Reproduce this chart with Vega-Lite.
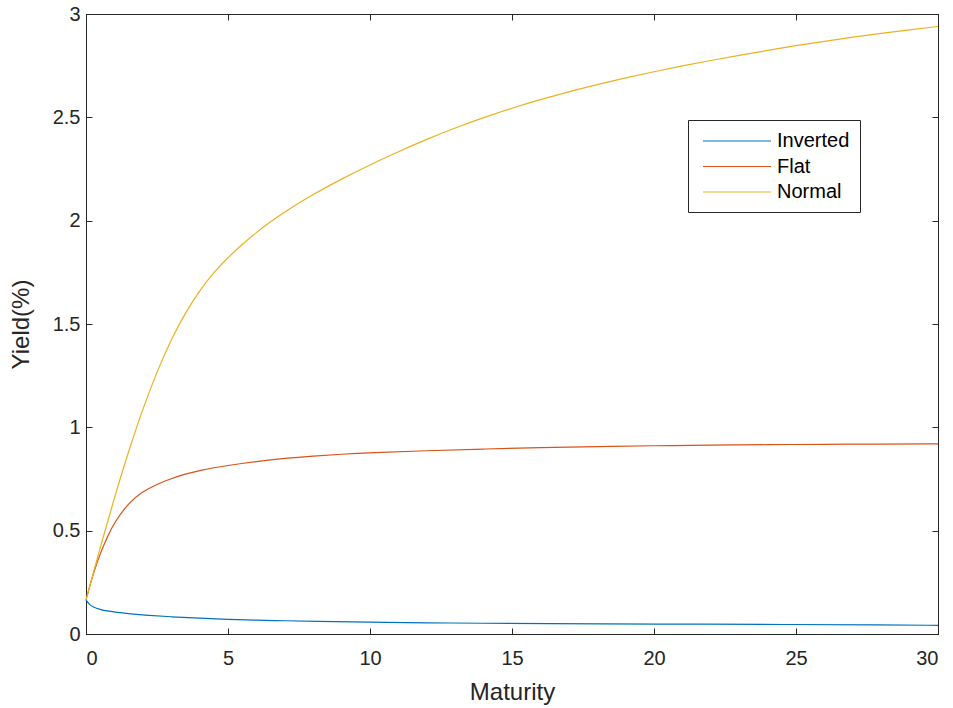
{
  "$schema": "https://vega.github.io/schema/vega-lite/v6.json",
  "width": 852,
  "height": 620,
  "autosize": {"type": "none"},
  "padding": {"left": 86, "top": 14, "right": 15, "bottom": 74},
  "background": "white",
  "config": {
    "font": "Liberation Sans",
    "view": {"stroke": "#262626", "strokeWidth": 1},
    "axis": {
      "grid": false,
      "domainColor": "#262626",
      "domainWidth": 1,
      "tickColor": "#262626",
      "tickSize": -6,
      "tickWidth": 1,
      "labelFont": "Liberation Sans",
      "labelFontSize": 20,
      "labelColor": "#262626",
      "titleFont": "Liberation Sans",
      "titleFontSize": 24,
      "titleFontWeight": "normal",
      "titleColor": "#262626"
    }
  },
  "data": {
    "values": [
      {"m": 0, "s": "Inverted", "y": 0.165},
      {"m": 0.1, "s": "Inverted", "y": 0.145},
      {"m": 0.25, "s": "Inverted", "y": 0.13},
      {"m": 0.5, "s": "Inverted", "y": 0.119},
      {"m": 0.75, "s": "Inverted", "y": 0.111},
      {"m": 1, "s": "Inverted", "y": 0.106},
      {"m": 1.5, "s": "Inverted", "y": 0.098},
      {"m": 2, "s": "Inverted", "y": 0.092},
      {"m": 3, "s": "Inverted", "y": 0.083},
      {"m": 4, "s": "Inverted", "y": 0.076},
      {"m": 5, "s": "Inverted", "y": 0.071},
      {"m": 6, "s": "Inverted", "y": 0.067},
      {"m": 7, "s": "Inverted", "y": 0.064},
      {"m": 8, "s": "Inverted", "y": 0.061},
      {"m": 10, "s": "Inverted", "y": 0.057},
      {"m": 12, "s": "Inverted", "y": 0.054},
      {"m": 14, "s": "Inverted", "y": 0.052},
      {"m": 16, "s": "Inverted", "y": 0.05},
      {"m": 20, "s": "Inverted", "y": 0.048},
      {"m": 25, "s": "Inverted", "y": 0.046},
      {"m": 28, "s": "Inverted", "y": 0.044},
      {"m": 30, "s": "Inverted", "y": 0.042},
      {"m": 0, "s": "Flat", "y": 0.165},
      {"m": 0.25, "s": "Flat", "y": 0.29},
      {"m": 0.5, "s": "Flat", "y": 0.39},
      {"m": 0.75, "s": "Flat", "y": 0.47},
      {"m": 1, "s": "Flat", "y": 0.54},
      {"m": 1.5, "s": "Flat", "y": 0.635},
      {"m": 2, "s": "Flat", "y": 0.69},
      {"m": 2.5, "s": "Flat", "y": 0.725},
      {"m": 3, "s": "Flat", "y": 0.752},
      {"m": 3.5, "s": "Flat", "y": 0.774},
      {"m": 4, "s": "Flat", "y": 0.792},
      {"m": 5, "s": "Flat", "y": 0.816},
      {"m": 6, "s": "Flat", "y": 0.835},
      {"m": 7, "s": "Flat", "y": 0.85},
      {"m": 8, "s": "Flat", "y": 0.861},
      {"m": 9, "s": "Flat", "y": 0.87},
      {"m": 10, "s": "Flat", "y": 0.877},
      {"m": 12, "s": "Flat", "y": 0.887},
      {"m": 14, "s": "Flat", "y": 0.895},
      {"m": 16, "s": "Flat", "y": 0.902},
      {"m": 18, "s": "Flat", "y": 0.907},
      {"m": 20, "s": "Flat", "y": 0.911},
      {"m": 22, "s": "Flat", "y": 0.914},
      {"m": 24, "s": "Flat", "y": 0.916},
      {"m": 26, "s": "Flat", "y": 0.918},
      {"m": 28, "s": "Flat", "y": 0.919},
      {"m": 30, "s": "Flat", "y": 0.92},
      {"m": 0, "s": "Normal", "y": 0.165},
      {"m": 0.5, "s": "Normal", "y": 0.42},
      {"m": 1, "s": "Normal", "y": 0.66},
      {"m": 1.5, "s": "Normal", "y": 0.885},
      {"m": 2, "s": "Normal", "y": 1.09},
      {"m": 2.5, "s": "Normal", "y": 1.27},
      {"m": 3, "s": "Normal", "y": 1.425},
      {"m": 3.5, "s": "Normal", "y": 1.555},
      {"m": 4, "s": "Normal", "y": 1.663},
      {"m": 4.5, "s": "Normal", "y": 1.75},
      {"m": 5, "s": "Normal", "y": 1.822},
      {"m": 5.5, "s": "Normal", "y": 1.886},
      {"m": 6, "s": "Normal", "y": 1.943},
      {"m": 6.5, "s": "Normal", "y": 1.995},
      {"m": 7, "s": "Normal", "y": 2.043},
      {"m": 8, "s": "Normal", "y": 2.128},
      {"m": 9, "s": "Normal", "y": 2.202},
      {"m": 10, "s": "Normal", "y": 2.27},
      {"m": 11, "s": "Normal", "y": 2.334},
      {"m": 12, "s": "Normal", "y": 2.394},
      {"m": 13, "s": "Normal", "y": 2.449},
      {"m": 14, "s": "Normal", "y": 2.499},
      {"m": 15, "s": "Normal", "y": 2.545},
      {"m": 16, "s": "Normal", "y": 2.586},
      {"m": 17, "s": "Normal", "y": 2.624},
      {"m": 18, "s": "Normal", "y": 2.659},
      {"m": 19, "s": "Normal", "y": 2.691},
      {"m": 20, "s": "Normal", "y": 2.721},
      {"m": 21, "s": "Normal", "y": 2.749},
      {"m": 22, "s": "Normal", "y": 2.775},
      {"m": 23, "s": "Normal", "y": 2.8},
      {"m": 24, "s": "Normal", "y": 2.824},
      {"m": 25, "s": "Normal", "y": 2.847},
      {"m": 26, "s": "Normal", "y": 2.868},
      {"m": 27, "s": "Normal", "y": 2.888},
      {"m": 28, "s": "Normal", "y": 2.906},
      {"m": 29, "s": "Normal", "y": 2.923},
      {"m": 30, "s": "Normal", "y": 2.94}
    ]
  },
  "layer": [
    {
      "mark": {"type": "line", "strokeWidth": 1.2, "interpolate": "basis"},
      "encoding": {
        "x": {
          "field": "m", "type": "quantitative",
          "scale": {"domain": [0, 30], "nice": false, "zero": false},
          "axis": {"orient": "bottom", "values": [0, 5, 10, 15, 20, 25, 30], "format": "~g", "title": "Maturity", "labelPadding": 20, "titlePadding": 12}
        },
        "y": {
          "field": "y", "type": "quantitative",
          "scale": {"domain": [0, 3], "nice": false},
          "axis": {"orient": "left", "values": [0, 0.5, 1, 1.5, 2, 2.5, 3], "format": "~g", "title": "Yield(%)", "labelPadding": 12, "titlePadding": 19}
        },
        "color": {
          "field": "s", "type": "nominal",
          "scale": {"domain": ["Inverted", "Flat", "Normal"], "range": ["#0072BD", "#D95319", "#EDB120"]},
          "legend": {
            "orient": "none", "legendX": 602, "legendY": 106,
            "title": null,
            "symbolType": "M-3.4,0H3.4",
            "symbolSize": 400,
            "symbolStrokeWidth": 1.2,
            "symbolOffset": 28,
            "labelOffset": 29,
            "labelFont": "Liberation Sans",
            "labelFontSize": 20,
            "labelColor": "#000000",
            "rowPadding": 4.5,
            "padding": 10,
            "fillColor": "white",
            "strokeColor": "#262626"
          }
        }
      }
    },
    {
      "mark": {"type": "line", "opacity": 0},
      "encoding": {
        "x": {
          "field": "m", "type": "quantitative",
          "scale": {"domain": [0, 30], "nice": false, "zero": false},
          "axis": {"orient": "top", "values": [0, 5, 10, 15, 20, 25, 30], "labels": false, "title": null}
        },
        "y": {
          "field": "y", "type": "quantitative",
          "scale": {"domain": [0, 3], "nice": false},
          "axis": {"orient": "right", "values": [0, 0.5, 1, 1.5, 2, 2.5, 3], "labels": false, "title": null}
        },
        "detail": {"field": "s", "type": "nominal"}
      }
    }
  ],
  "resolve": {"axis": {"x": "independent", "y": "independent"}}
}
